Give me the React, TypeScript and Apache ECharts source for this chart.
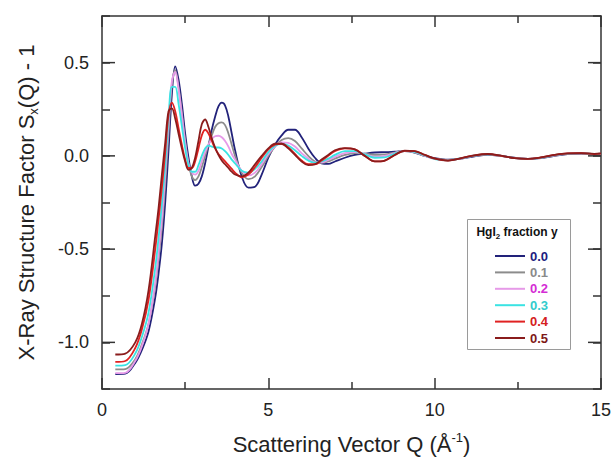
import React, { useEffect, useRef } from 'react';
import * as echarts from 'echarts';

const qValues = [0.4, 0.7, 1.0, 1.2, 1.4, 1.6, 1.7, 1.8, 1.9, 2.0, 2.1, 2.2, 2.3, 2.4, 2.5, 2.6, 2.7, 2.8, 2.9, 3.0, 3.1, 3.2, 3.3, 3.4, 3.5, 3.6, 3.7, 3.8, 3.9, 4.0, 4.2, 4.4, 4.6, 4.8, 5.0, 5.2, 5.4, 5.6, 5.8, 6.0, 6.2, 6.4, 6.6, 6.8, 7.0, 7.3, 7.6, 7.9, 8.2, 8.5, 8.8, 9.1, 9.4, 9.7, 10.0, 10.4, 10.8, 11.2, 11.6, 12.0, 12.4, 12.8, 13.2, 13.6, 14.0, 14.4, 14.8, 15.0];

const y00 = [-1.17, -1.168, -1.11, -1.04, -0.94, -0.76, -0.63, -0.47, -0.25, 0.03, 0.33, 0.48, 0.41, 0.28, 0.12, -0.01, -0.11, -0.16, -0.15, -0.11, -0.04, 0.05, 0.14, 0.21, 0.265, 0.285, 0.27, 0.21, 0.12, 0.03, -0.11, -0.17, -0.165, -0.1, -0.01, 0.06, 0.11, 0.14, 0.14, 0.1, 0.04, -0.01, -0.04, -0.043, -0.03, -0.01, 0.005, 0.012, 0.018, 0.02, 0.022, 0.025, 0.018, 0.0, -0.012, -0.02, -0.015, -0.002, 0.006, 0.0, -0.01, -0.016, -0.012, 0.0, 0.01, 0.012, 0.01, 0.01];
const y01 = [-1.145, -1.143, -1.09, -1.01, -0.9, -0.7, -0.55, -0.38, -0.15, 0.12, 0.38, 0.46, 0.37, 0.23, 0.08, -0.04, -0.11, -0.13, -0.11, -0.06, 0.0, 0.06, 0.11, 0.155, 0.175, 0.18, 0.165, 0.12, 0.06, 0.0, -0.09, -0.125, -0.11, -0.06, 0.0, 0.05, 0.085, 0.095, 0.08, 0.04, 0.0, -0.03, -0.038, -0.03, -0.015, 0.005, 0.015, 0.012, 0.005, 0.008, 0.018, 0.026, 0.018, 0.0, -0.014, -0.022, -0.014, 0.0, 0.007, 0.0, -0.011, -0.016, -0.01, 0.002, 0.011, 0.013, 0.01, 0.011];
const y02 = [-1.165, -1.163, -1.1, -1.02, -0.9, -0.68, -0.52, -0.34, -0.1, 0.17, 0.4, 0.45, 0.36, 0.22, 0.07, -0.04, -0.09, -0.1, -0.08, -0.03, 0.02, 0.06, 0.09, 0.105, 0.108, 0.1, 0.08, 0.05, 0.01, -0.02, -0.08, -0.105, -0.09, -0.045, 0.01, 0.05, 0.072, 0.07, 0.05, 0.015, -0.015, -0.035, -0.035, -0.022, -0.005, 0.015, 0.02, 0.01, -0.005, 0.0, 0.015, 0.027, 0.02, 0.0, -0.016, -0.023, -0.013, 0.001, 0.008, 0.0, -0.012, -0.016, -0.009, 0.003, 0.012, 0.013, 0.01, 0.011];
const y03 = [-1.125, -1.122, -1.06, -0.97, -0.84, -0.6, -0.44, -0.26, -0.05, 0.2, 0.37, 0.37, 0.28, 0.16, 0.04, -0.05, -0.085, -0.085, -0.05, 0.0, 0.04, 0.055, 0.05, 0.045, 0.045, 0.04, 0.025, 0.005, -0.02, -0.04, -0.08, -0.09, -0.07, -0.03, 0.02, 0.055, 0.065, 0.055, 0.03, 0.0, -0.025, -0.037, -0.03, -0.015, 0.005, 0.025, 0.025, 0.008, -0.01, -0.008, 0.012, 0.027, 0.022, 0.002, -0.017, -0.024, -0.012, 0.002, 0.008, 0.0, -0.012, -0.016, -0.009, 0.004, 0.012, 0.013, 0.01, 0.012];
const y04 = [-1.105, -1.1, -1.03, -0.93, -0.77, -0.5, -0.34, -0.17, 0.02, 0.22, 0.285, 0.24, 0.15, 0.06, -0.02, -0.065, -0.065, -0.03, 0.04, 0.11, 0.14, 0.12, 0.08, 0.04, 0.01, -0.01, -0.03, -0.05, -0.07, -0.09, -0.115, -0.1, -0.06, -0.01, 0.035, 0.06, 0.065, 0.045, 0.01, -0.025, -0.045, -0.045, -0.025, 0.0, 0.025, 0.04, 0.035, 0.0, -0.03, -0.025, 0.005, 0.027, 0.025, 0.005, -0.015, -0.025, -0.012, 0.003, 0.009, 0.0, -0.012, -0.016, -0.008, 0.005, 0.013, 0.014, 0.01, 0.012];
const y05 = [-1.065, -1.06, -1.0, -0.9, -0.72, -0.43, -0.28, -0.1, 0.07, 0.24, 0.255, 0.2, 0.12, 0.04, -0.03, -0.075, -0.065, -0.01, 0.08, 0.17, 0.195, 0.155, 0.095, 0.045, 0.005, -0.025, -0.045, -0.065, -0.085, -0.1, -0.11, -0.09, -0.045, 0.0, 0.04, 0.065, 0.065, 0.04, 0.005, -0.03, -0.05, -0.045, -0.02, 0.005, 0.03, 0.042, 0.035, 0.0, -0.03, -0.025, 0.005, 0.028, 0.026, 0.006, -0.014, -0.025, -0.012, 0.003, 0.01, 0.001, -0.012, -0.016, -0.008, 0.005, 0.013, 0.015, 0.011, 0.013];

const fractions = ['0.0', '0.1', '0.2', '0.3', '0.4', '0.5'];
const seriesValues = [y00, y01, y02, y03, y04, y05];
const lineColors = ['#22227a', '#8c8c8c', '#e69ae8', '#3ae3e3', '#e02222', '#8a1c1c'];
const labelColors = ['#1c1c80', '#8a8a8a', '#d42cd4', '#33cccc', '#d42020', '#7e1818'];
const xTickLabels = ['0', '5', '10', '15'];
const yMajorTicks = [-1.0, -0.5, 0.0, 0.5];

const FONT = '"Liberation Sans", Arial, sans-serif';
const AXIS = '#333333';

export default function App() {
  const ref = useRef<HTMLDivElement>(null);
  useEffect(() => {
    const chart = echarts.init(ref.current as HTMLDivElement, null, { renderer: 'svg' });
    const xMin = 0, xMax = 15, yMin = -1.25, yMax = 0.75;
    const lineSeries = fractions.map((f, i) => ({
      type: 'line',
      name: f,
      data: qValues.map((q, j) => [q, seriesValues[i][j]]),
      smooth: 0.35,
      symbol: 'none',
      showSymbol: false,
      lineStyle: { color: lineColors[i], width: 1.8 },
      itemStyle: { color: lineColors[i] },
      xAxisIndex: 0,
      yAxisIndex: 0,
      z: 2 + i,
    }));
    const option: any = {
      animation: false,
      textStyle: { fontFamily: FONT },
      grid: { left: 102, right: 12, top: 16, bottom: 74, containLabel: false, outerBoundsMode: 'none' },
      xAxis: [
        {
          type: 'value', min: xMin, max: xMax, interval: 5, position: 'bottom',
          axisLine: { show: true, onZero: false, lineStyle: { color: AXIS, width: 1.5 } },
          axisTick: { show: true, inside: true, length: 11, lineStyle: { color: AXIS, width: 1.5 } },
          minorTick: { show: true, splitNumber: 2, length: 7, lineStyle: { color: AXIS, width: 1.5 } },
          splitLine: { show: false },
          axisLabel: {
            color: '#222', fontSize: 18, fontFamily: FONT, margin: 12,
            formatter: (v: number) => xTickLabels[Math.round(v / 5)] ?? '',
          },
          name: '{a|Scattering Vector Q (Å}{sup|-1}{a|)}',
          nameLocation: 'middle', nameGap: 42,
          nameTextStyle: {
            rich: {
              a: { fontSize: 22, fontFamily: FONT, color: '#222', lineHeight: 26 },
              sup: { fontSize: 13, fontFamily: FONT, color: '#222', verticalAlign: 'top', lineHeight: 26 },
            },
          },
        },
        {
          type: 'value', min: xMin, max: xMax, interval: 5, position: 'top',
          axisLine: { show: true, onZero: false, lineStyle: { color: AXIS, width: 1.5 } },
          axisTick: { show: true, inside: true, length: 11, lineStyle: { color: AXIS, width: 1.5 } },
          minorTick: { show: true, splitNumber: 2, length: 7, lineStyle: { color: AXIS, width: 1.5 } },
          splitLine: { show: false },
          axisLabel: { show: false },
        },
      ],
      yAxis: [
        {
          type: 'value', min: yMin, max: yMax, interval: 0.25, position: 'left',
          axisLine: { show: true, onZero: false, lineStyle: { color: AXIS, width: 1.5 } },
          axisTick: { show: true, inside: true, length: 8, lineStyle: { color: AXIS, width: 1.5 } },
          splitLine: { show: false },
          axisLabel: {
            color: '#222', fontSize: 18, fontFamily: FONT, margin: 13,
            formatter: (v: number) => (Math.abs(v * 2 - Math.round(v * 2)) < 1e-6 ? v.toFixed(1) : ''),
          },
          name: '{a|X-Ray Structure Factor S}{sub|x}{a|(Q) - 1}',
          nameLocation: 'middle', nameGap: 62,
          nameTextStyle: {
            rich: {
              a: { fontSize: 22, fontFamily: FONT, color: '#222', lineHeight: 28 },
              sub: { fontSize: 13, fontFamily: FONT, color: '#222', verticalAlign: 'bottom', lineHeight: 28 },
            },
          },
        },
        {
          type: 'value', min: yMin, max: yMax, interval: 0.25, position: 'right',
          axisLine: { show: true, onZero: false, lineStyle: { color: AXIS, width: 1.5 } },
          axisTick: { show: true, inside: true, length: 8, lineStyle: { color: AXIS, width: 1.5 } },
          splitLine: { show: false },
          axisLabel: { show: false },
        },
      ],
      legend: {
        orient: 'vertical', left: 490, top: 244,
        itemWidth: 30, itemHeight: 2, itemGap: 2.4,
        icon: 'rect',
        selectedMode: false,
        data: fractions.map((f, i) => ({ name: f, icon: 'rect', textStyle: { color: labelColors[i] } })),
        textStyle: { fontSize: 13, fontWeight: 'bold', fontFamily: FONT, lineHeight: 14 },
      },
      graphic: [
        {
          type: 'rect', left: 465, top: 217, shape: { width: 103, height: 130 },
          style: { fill: 'none', stroke: '#9a9a9a', lineWidth: 1 }, z: 1,
        },
        {
          type: 'text', x: 517, y: 232,
          style: {
            text: '{a|HgI}{s|2}{a| fraction y}',
            align: 'center', verticalAlign: 'middle',
            rich: {
              a: { fontSize: 12, fontWeight: 'bold', fontFamily: FONT, fill: '#111', lineHeight: 16 },
              s: { fontSize: 8, fontWeight: 'bold', fontFamily: FONT, fill: '#111', verticalAlign: 'bottom', lineHeight: 16 },
            },
          },
        },
      ],
      series: [
        ...lineSeries,
        {
          type: 'custom', name: 'majorTicks', silent: true, clip: false, z: 20,
          xAxisIndex: 0, yAxisIndex: 0,
          data: yMajorTicks.map((v) => [xMin, v]),
          encode: { x: 0, y: 1 },
          renderItem: (_params: any, api: any) => {
            const v = api.value(1);
            const l = api.coord([xMin, v]);
            const r = api.coord([xMax, v]);
            const st = { stroke: AXIS, lineWidth: 1.5 };
            return {
              type: 'group',
              children: [
                { type: 'line', shape: { x1: l[0], y1: l[1], x2: l[0] + 13, y2: l[1] }, style: st },
                { type: 'line', shape: { x1: r[0] - 13, y1: r[1], x2: r[0], y2: r[1] }, style: st },
              ],
            };
          },
        },
      ],
    };
    chart.setOption(option);
    return () => chart.dispose();
  }, []);
  return <div ref={ref} style={{ width: 613, height: 463, position: 'absolute', left: 0, top: 0 }} />;
}
